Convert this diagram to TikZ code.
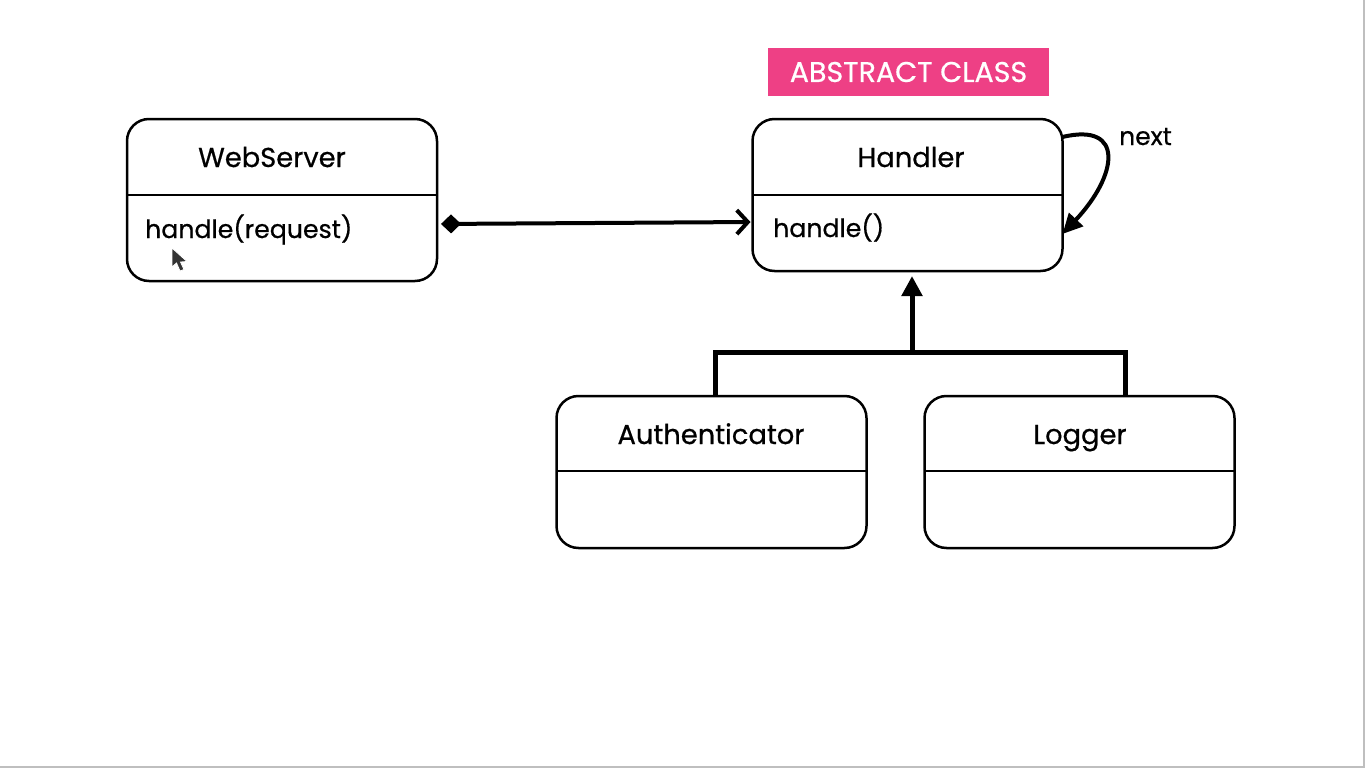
\documentclass[tikz,border=0pt]{standalone}
\usepackage{fontspec}
\setmainfont{Poppins}[FakeBold=0.6]
\usetikzlibrary{arrows.meta}
\definecolor{tagpink}{HTML}{EE4085}
\begin{document}
\begin{tikzpicture}[x=1pt,y=-1pt,
  classbox/.style={draw=black, line width=2.5pt, rounded corners=22pt, minimum width=310pt, inner sep=0pt, outer sep=0pt},
  divider/.style={line width=2pt},
  title/.style={font=\fontsize{27.3}{31}\selectfont, inner sep=0pt, anchor=base},
  member/.style={font=\fontsize{25.2}{29}\selectfont, inner sep=0pt, anchor=base west},
  conn/.style={line width=4pt},
  inherit/.style={line width=5pt},
  tag/.style={fill=tagpink, text=white, font=\fontsize{28.5}{33}\selectfont, minimum width=281pt, minimum height=48pt, inner sep=0pt}
]
\useasboundingbox (0,0) rectangle (1366,768);
\fill[white] (0,0) rectangle (1366,768);
\draw[black!25, line width=1.5pt] (1364,0) -- (1364,767) -- (0,767);

% class boxes
\node[classbox, minimum height=162pt] (ws) at (282,200) {};
\node[classbox, minimum height=152pt] (h) at (907.5,195) {};
\node[classbox, minimum height=152pt] (auth) at (711.5,472) {};
\node[classbox, minimum height=152pt] (log) at (1079.5,472) {};

\draw[divider] (127,195) -- (437,195);
\draw[divider] (753,195) -- (1062,195);
\draw[divider] (557,471) -- (866,471);
\draw[divider] (925,471) -- (1234,471);

\node[title] (wst) at (272,167) {WebServer};
\node[member] (wsm) at (145,238) {handle(request)};
\node[title] (ht) at (911,167) {Handler};
\node[member] (hm) at (773,237) {handle()};
\node[title] (at) at (711,444) {Authenticator};
\node[title] (lt) at (1080,444) {Logger};

\node[tag] (abs) at (908.5,72) {ABSTRACT CLASS};

% composition
\draw[conn, shorten <=4pt, shorten >=2pt, {Diamond[length=20pt,width=19pt,line width=1pt]}-{Straight Barb[length=11pt,width=24pt,line width=4pt]}]
  (ws.east |- 0,224) -- (h.west |- 0,222);

% self association
\draw[conn, -{Triangle[length=20pt,width=19pt]}]
  (h.east |- 0,137) .. controls (1125,122) and (1118,175) .. (h.east |- 0,234);
\node[font=\fontsize{25}{29}\selectfont, inner sep=0pt, anchor=base west] (nx) at (1119,145) {next};

% inheritance
\coordinate (j) at (912,352);
\draw[inherit] (auth.north -| 715,0) |- (j) -| (log.north -| 1125,0);
\draw[inherit, -{Triangle[length=20pt,width=20pt]}] (j) -- ([yshift=-5pt]h.south -| j);

% mouse cursor
\filldraw[fill=black!80, draw=white, line width=0.8pt]
  (172,248) -- (172,267) -- (176.5,263) -- (180,271) -- (184,269.5) -- (180.5,262) -- (187,261.5) -- cycle;
\end{tikzpicture}
\end{document}
